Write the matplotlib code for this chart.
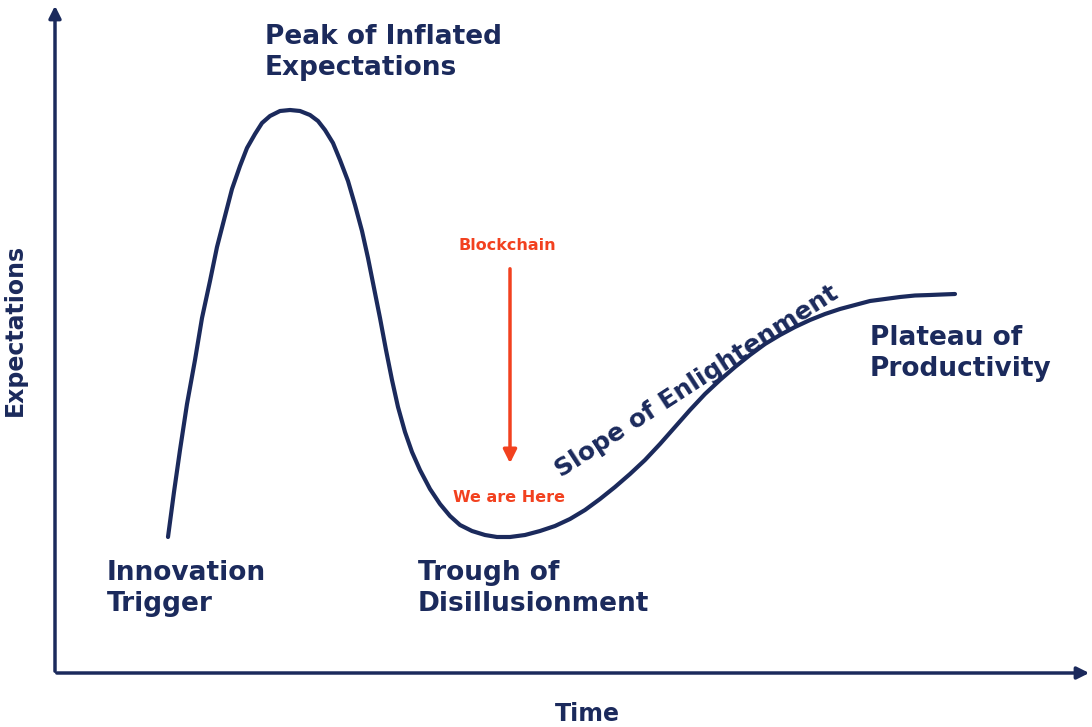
import matplotlib.pyplot as plt

# curve (pixel coords, y down)
curve_x = [168, 174, 180, 187, 195, 202, 210, 217, 225, 232, 240, 247, 255, 262, 270, 280, 290,
           300, 310, 318, 325, 333, 340, 348, 355, 362, 368, 374, 380, 386, 392, 398, 405, 412,
           420, 430, 440, 450, 460, 472, 485, 497, 510, 525, 540, 555, 570, 585, 600, 615, 630,
           645, 660, 675, 690, 705, 720, 735, 750, 765, 780, 795, 810, 825, 840, 855, 870, 885,
           900, 915, 930, 942, 955]
curve_y = [537, 492, 450, 404, 360, 318, 281, 247, 216, 189, 166, 148, 134, 123, 116, 111, 110,
           111, 115, 121, 130, 143, 160, 181, 205, 231, 258, 288, 318, 350, 380, 407, 432, 452,
           470, 489, 504, 516, 525, 531, 535, 537, 537, 535, 531, 526, 519, 510, 499, 487, 474,
           460, 444, 427, 410, 394, 380, 367, 355, 344, 335, 327, 320, 314, 309, 305, 301, 299,
           297, 295.5, 295, 294.5, 294]

navy = '#1b2a5c'
red = '#f2411f'

fig = plt.figure(figsize=(10.92, 7.27), dpi=100)
ax = fig.add_axes([0, 0, 1, 1])
ax.set_xlim(0, 1092)
ax.set_ylim(727, 0)
ax.axis('off')

# axes with arrowheads
ax.annotate('', xy=(55, 3), xytext=(55, 674),
            arrowprops=dict(arrowstyle='-|>', color=navy, lw=2.5, mutation_scale=18))
ax.annotate('', xy=(1092, 673), xytext=(54, 673),
            arrowprops=dict(arrowstyle='-|>', color=navy, lw=2.5, mutation_scale=18))

ax.plot(curve_x, curve_y, color=navy, lw=3, solid_capstyle='round', solid_joinstyle='round')

kw = dict(color=navy, fontsize=19, fontweight='bold', va='top', ha='left', linespacing=1.25)
ax.text(265, 24, 'Peak of Inflated\nExpectations', **kw)
ax.text(107, 560, 'Innovation\nTrigger', **kw)
ax.text(418, 560, 'Trough of\nDisillusionment', **kw)
ax.text(870, 325, 'Plateau of\nProductivity', **kw)
ax.text(697, 381, 'Slope of Enlightenment', color=navy, fontsize=18, fontweight='bold',
        rotation=33, ha='center', va='center', rotation_mode='anchor')

ax.text(507, 246, 'Blockchain', color=red, fontsize=11.5, fontweight='bold', ha='center', va='center')
ax.annotate('', xy=(510, 466), xytext=(510, 266),
            arrowprops=dict(arrowstyle='-|>', color=red, lw=2.5, mutation_scale=20))
ax.text(509, 498, 'We are Here', color=red, fontsize=11.5, fontweight='bold', ha='center', va='center')

ax.text(15, 330, 'Expectations', color=navy, fontsize=17, fontweight='bold', rotation=90,
        ha='center', va='center')
ax.text(587, 714, 'Time', color=navy, fontsize=17, fontweight='bold', ha='center', va='center')

fig.savefig('out.png', dpi=100)
